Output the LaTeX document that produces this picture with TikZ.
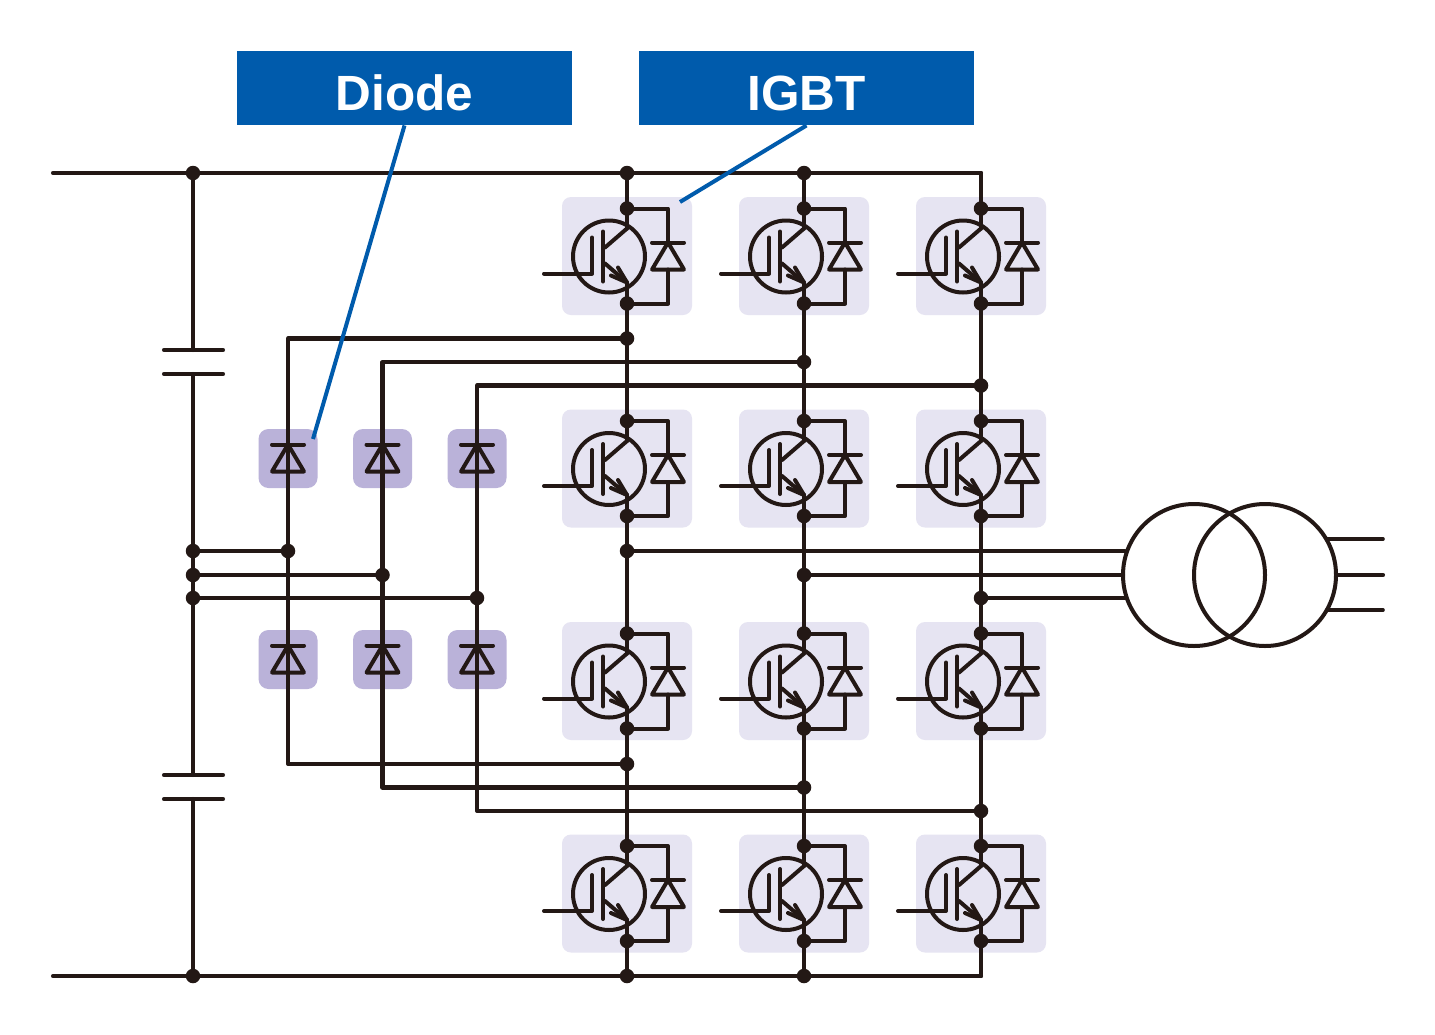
\documentclass[tikz,border=0pt]{standalone}
\usepackage{fontspec}
\setmainfont{Liberation Sans}
\definecolor{wire}{HTML}{231815}
\definecolor{igbtbg}{HTML}{E6E4F2}
\definecolor{diodebg}{HTML}{BAB2D9}
\definecolor{callout}{HTML}{005BAC}
\tikzset{
  wireline/.style={draw=wire,line width=4.1pt,line cap=round,line join=round},
  symline/.style={draw=wire,line width=4pt,line cap=round,line join=round},
  thinline/.style={draw=wire,line width=3.6pt,line cap=round},
  leader/.style={draw=callout,line width=4pt},
  jdot/.style={circle,fill=wire,inner sep=0pt,minimum size=14.5pt},
  igbtbox/.style={rectangle,rounded corners=9pt,fill=igbtbg,inner sep=0pt,minimum width=130pt,minimum height=118pt},
  diodebox/.style={rectangle,rounded corners=10pt,fill=diodebg,inner sep=0pt,minimum width=59pt,minimum height=59pt},
  labelbox/.style={rectangle,fill=callout,text=white,inner sep=0pt,minimum width=335pt,minimum height=74.5pt,font=\fontsize{49.5}{52}\selectfont\bfseries},
}
% IGBT cell: name, x, y
\newcommand\igbtcell[3]{%
  \node[igbtbox] (#1box) at (#2,#3) {};
  \begin{scope}[shift={(#2,#3)}]
    \coordinate (#1c) at (0,-27.5);
    \coordinate (#1e) at (0,26.5);
    \draw[symline] (-18,0.5) circle (36);
    \draw[symline] (-83,17.5) -- (-35,17.5) -- (-35,-18.5);
    \draw[symline] (-24,-24.5) -- (-24,25.5);
    \draw[symline] (-22,-8.5) -- (#1c);
    \draw[symline] (-22,7.5) -- (#1e);
    \draw[symline] (-9,11.5) -- (#1e) -- (-16,19.5);
    \draw[symline] (25,-13.5) -- (57,-13.5);
    \draw[symline] (41,-13.5) -- (25,13.5) -- (57,13.5) -- cycle;
    \node[jdot] (#1t) at (0,-47.5) {};
    \node[jdot] (#1b) at (0,47.5) {};
    \draw[symline] (#1t.center) -- (41,-47.5) -- (41,-13.5);
    \draw[symline] (#1b.center) -- (41,47.5) -- (41,13.5);
  \end{scope}
  \draw[wireline] (#1t.center) -- (#1c);
  \draw[wireline] (#1e) -- (#1b.center);
}
% rectifier diode: name, x, y
\newcommand\rectdiode[3]{%
  \begin{scope}[shift={(#2,#3)}]
    \draw[symline] (-16,-14) -- (16,-14);
    \draw[symline] (0,-14) -- (-16,13) -- (16,13) -- cycle;
  \end{scope}
}
\begin{document}
\begin{tikzpicture}[x=1pt,y=-1pt]
\useasboundingbox (0,0) rectangle (1435,1034);
\fill[white] (0,0) rectangle (1435,1034);

% rectifier backgrounds
\foreach \n/\x in {a/288,b/382.5,c/477}{
  \node[diodebox] (\n up) at (\x,458.5) {};
  \node[diodebox] (\n lo) at (\x,659.5) {};
}

% free ends and junctions
\coordinate (pL) at (53,173);
\coordinate (nL) at (53,976);
\coordinate (pR) at (981,173);
\coordinate (nR) at (981,976);
\node[jdot] (p0) at (193,173) {};
\node[jdot] (n0) at (193,976) {};
\node[jdot] (p1) at (627,173) {};
\node[jdot] (p2) at (804,173) {};
\node[jdot] (n1) at (627,976) {};
\node[jdot] (n2) at (804,976) {};
\node[jdot] (m1) at (193,551) {};
\node[jdot] (m2) at (193,575) {};
\node[jdot] (m3) at (193,598) {};
\node[jdot] (ra) at (288,551) {};
\node[jdot] (rb) at (382.5,575) {};
\node[jdot] (rc) at (477,598) {};
\node[jdot] (ta) at (627,338.5) {};
\node[jdot] (tb) at (804,362) {};
\node[jdot] (tc) at (981,385.5) {};
\node[jdot] (ba) at (627,764) {};
\node[jdot] (bb) at (804,787.5) {};
\node[jdot] (bc) at (981,811) {};
\node[jdot] (oa) at (627,551) {};
\node[jdot] (ob) at (804,575) {};
\node[jdot] (oc) at (981,598) {};
\coordinate (ca) at (288,338.5);
\coordinate (cb) at (382.5,362);
\coordinate (cc) at (477,385.5);
\coordinate (da) at (288,764);
\coordinate (db) at (382.5,787.5);
\coordinate (dc) at (477,811);

% DC bus
\draw[wireline] (pL) -- (p0.center) -- (p1.center) -- (p2.center) -- (pR);
\draw[wireline] (nL) -- (n0.center) -- (n1.center) -- (n2.center) -- (nR);

% capacitors
\coordinate (c1t) at (193,350);
\coordinate (c1b) at (193,374);
\coordinate (c2t) at (193,775);
\coordinate (c2b) at (193,799);
\draw[wireline] (p0.center) -- (c1t);
\draw[wireline] (c1b) -- (m1.center) -- (m2.center) -- (m3.center) -- (c2t);
\draw[wireline] (c2b) -- (n0.center);
\foreach \c in {c1t,c1b,c2t,c2b}{
  \draw[wireline] ([xshift=-29pt]\c) -- ([xshift=30pt]\c);
}

% rectifier wiring
\draw[wireline] (ta.center) -- (ca) -- (da) -- (ba.center);
\draw[wireline] (tb.center) -- (cb) -- (db) -- (bb.center);
\draw[wireline] (tc.center) -- (cc) -- (dc) -- (bc.center);
\draw[wireline] (m1.center) -- (ra.center);
\draw[wireline] (m2.center) -- (rb.center);
\draw[wireline] (m3.center) -- (rc.center);
\rectdiode{au}{288}{458.5}
\rectdiode{al}{288}{659.5}
\rectdiode{bu}{382.5}{458.5}
\rectdiode{bl}{382.5}{659.5}
\rectdiode{cu}{477}{458.5}
\rectdiode{cl}{477}{659.5}

% IGBT cells
\igbtcell{u1}{627}{256}
\igbtcell{v1}{804}{256}
\igbtcell{w1}{981}{256}
\igbtcell{u2}{627}{468.5}
\igbtcell{v2}{804}{468.5}
\igbtcell{w2}{981}{468.5}
\igbtcell{u3}{627}{681}
\igbtcell{v3}{804}{681}
\igbtcell{w3}{981}{681}
\igbtcell{u4}{627}{893.5}
\igbtcell{v4}{804}{893.5}
\igbtcell{w4}{981}{893.5}

% phase legs
\foreach \l/\p/\n in {u/p1/n1,v/p2/n2}{
  \draw[wireline] (\p.center) -- (\l1t.center);
  \draw[wireline] (\l1b.center) -- (\l2t.center);
  \draw[wireline] (\l2b.center) -- (\l3t.center);
  \draw[wireline] (\l3b.center) -- (\l4t.center);
  \draw[wireline] (\l4b.center) -- (\n.center);
}
\draw[wireline] (pR) -- (w1t.center);
\draw[wireline] (w1b.center) -- (w2t.center);
\draw[wireline] (w2b.center) -- (w3t.center);
\draw[wireline] (w3b.center) -- (w4t.center);
\draw[wireline] (w4b.center) -- (nR);

% transformer
\node[circle,draw=wire,line width=4pt,inner sep=0pt,minimum size=142pt] (tl) at (1194,575) {};
\node[circle,draw=wire,line width=4pt,inner sep=0pt,minimum size=142pt] (tr) at (1265,575) {};
\coordinate (t1) at (1125,551);
\coordinate (t2) at (1123,575);
\coordinate (t3) at (1125,598);
\coordinate (s1) at (1327,539);
\coordinate (s2) at (1336,575);
\coordinate (s3) at (1327,610);
\coordinate (e1) at (1383,539);
\coordinate (e2) at (1383,575);
\coordinate (e3) at (1383,610);
\draw[thinline] (oa.center) -- (t1);
\draw[wireline] (ob.center) -- (t2);
\draw[thinline] (oc.center) -- (t3);
\draw[thinline] (s1) -- (e1);
\draw[wireline] (s2) -- (e2);
\draw[thinline] (s3) -- (e3);

% callouts
\node[labelbox] (diode) at (404.5,88) {\raisebox{-22pt}[0pt][0pt]{Diode}};
\node[labelbox] (igbt) at (806.5,88) {\raisebox{-22pt}[0pt][0pt]{IGBT}};
\coordinate (dtip) at (313,439);
\coordinate (itip) at (680,202);
\draw[leader] (diode.south) -- (dtip);
\draw[leader] (igbt.south) -- (itip);
\end{tikzpicture}
\end{document}
